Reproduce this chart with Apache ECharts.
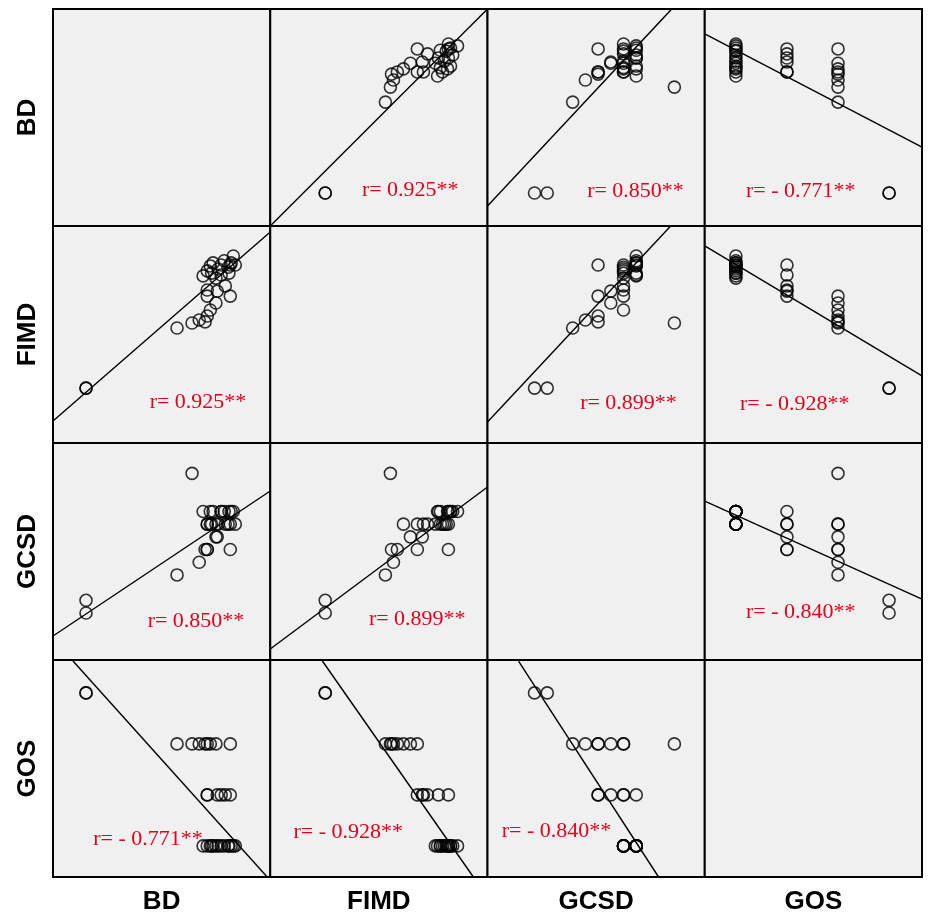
<!DOCTYPE html>
<html><head><meta charset="utf-8">
<script src="https://cdn.jsdelivr.net/npm/echarts@6/dist/echarts.min.js"></script>
<style>html,body{margin:0;padding:0;background:#fff}#c{width:935px;height:920px}</style>
</head><body><div id="c"></div>
<script>
// ---- data (one entry per subject) ----
const variables = ['BD', 'FIMD', 'GCSD', 'GOS'];
const bd   = [15.2,15.2,57.1,64.0,67.3,70.0,71.0,72.4,75.0,81.6,81.6,71.0,75.6,79.3,77.4,71.0,69.1,71.0,72.4,73.7,76.0,77.4,78.8,80.6,82.0,83.0,83.9,75.0,81.0,73.0];
const fimd = [25.3,25.3,53.0,55.3,56.7,55.8,58.5,61.3,64.5,67.7,82.0,67.7,70.0,72.4,77.4,70.5,77.0,79.3,81.6,83.0,80.2,82.0,84.0,81.0,83.0,86.2,82.0,76.0,78.3,78.3];
const gcsd = [4,3,6,14,7,8,8,10,9,10,8,8,9,10,11,10,11,10,11,11,10,11,11,10,11,11,10,10,11,10];
const gos  = [5,5,4,4,4,4,4,4,4,4,3,3,3,3,3,3,2,2,2,2,2,2,2,2,2,2,2,2,2,2];
// axis ranges of each variable
const axisMin = [0, 0, -0.7, 1.39];
const axisMax = [100, 100, 16.39, 5.645];
// fitted lines: [row, col, x1, y1, x2, y2]
const fitLines = [
  [0,1, 0,0, 100,100],
  [0,2, -0.7,9.2, 13.87,100.5],
  [0,3, 1.39,88.5, 5.645,36.4],
  [1,0, 0,10.1, 100,97.2],
  [1,2, -0.7,9.7, 13.71,100],
  [1,3, 1.39,90.8, 5.645,30.9],
  [2,0, 0,1.19, 100,12.61],
  [2,1, 0,0.17, 100,12.92],
  [2,3, 1.39,11.82, 5.645,4.10],
  [3,0, 9.2,5.625, 98.6,1.39],
  [3,1, 24.0,5.625, 93.5,1.39],
  [3,2, 1.74,5.625, 12.76,1.39]
];
// correlation annotations: [row, col, text]
const rTexts = [
  [0,1,'r= 0.925**'], [0,2,'r= 0.850**'], [0,3,'r= - 0.771**'],
  [1,0,'r= 0.925**'], [1,2,'r= 0.899**'], [1,3,'r= - 0.928**'],
  [2,0,'r= 0.850**'], [2,1,'r= 0.899**'], [2,3,'r= - 0.840**'],
  [3,0,'r= - 0.771**'], [3,1,'r= - 0.928**'], [3,2,'r= - 0.840**']
];

// ---- layout ----
const L0 = 53, T0 = 9, CW = 217.25, CH = 217;
// annotation centre inside each panel (px from panel left/top)
const rTextPos = {
  '0,1':[140,181], '0,2':[148,182], '0,3':[96,182],
  '1,0':[145,176], '1,2':[141,177], '1,3':[90,178],
  '2,0':[143,178], '2,1':[147,176], '2,3':[96,169],
  '3,0':[95,179],  '3,1':[78,172],  '3,2':[69,171]
};

const vals = [bd, fimd, gcsd, gos];
const grids = [], xAxes = [], yAxes = [], series = [], graphics = [];
let gi = 0;
const gridIndex = {};
for (let r = 0; r < 4; r++) {
  for (let c = 0; c < 4; c++) {
    grids.push({left: L0 + c*CW, top: T0 + r*CH, width: CW, height: CH,
      show: true, backgroundColor: '#f0f0f0', borderColor: '#000', borderWidth: 2});
    xAxes.push({type:'value', gridIndex: gi, min: axisMin[c], max: axisMax[c],
      axisLine:{show:false}, axisTick:{show:false}, axisLabel:{show:false}, splitLine:{show:false}});
    yAxes.push({type:'value', gridIndex: gi, min: axisMin[r], max: axisMax[r],
      axisLine:{show:false}, axisTick:{show:false}, axisLabel:{show:false}, splitLine:{show:false}});
    gridIndex[r+','+c] = gi;
    if (r !== c) {
      const pts = vals[c].map((v, i) => [v, vals[r][i]]);
      series.push({type:'scatter', xAxisIndex: gi, yAxisIndex: gi, data: pts,
        symbol:'circle', symbolSize: 12, silent: true,
        itemStyle:{color:'rgba(0,0,0,0)', borderColor:'#000', borderWidth:1.6}});
    }
    gi++;
  }
}
fitLines.forEach(f => {
  const g = gridIndex[f[0]+','+f[1]];
  series.push({type:'line', xAxisIndex: g, yAxisIndex: g, clip: true, silent: true,
    data: [[f[2], f[3]], [f[4], f[5]]], symbol:'none',
    lineStyle:{color:'#000', width:1.4}});
});
rTexts.forEach(t => {
  const p = rTextPos[t[0]+','+t[1]];
  graphics.push({type:'text', x: L0 + t[1]*CW + p[0], y: T0 + t[0]*CH + p[1], z: 100,
    style:{text: t[2], fill:'#e0001b', font:'22px "Liberation Serif"', textAlign:'center', textVerticalAlign:'middle'}});
});
variables.forEach((v, i) => {
  graphics.push({type:'text', x: L0 + i*CW + CW/2, y: 902,
    style:{text: v, fill:'#000', font:'bold 26px "Liberation Sans"', textAlign:'center', textVerticalAlign:'middle'}});
  graphics.push({type:'text', x: 28, y: T0 + i*CH + CH/2, rotation: Math.PI/2,
    style:{text: v, fill:'#000', font:'bold 26px "Liberation Sans"', textAlign:'center', textVerticalAlign:'middle'}});
});

const chart = echarts.init(document.getElementById('c'));
chart.setOption({animation:false, backgroundColor:'#fff', grid: grids, xAxis: xAxes, yAxis: yAxes, series: series, graphic: graphics});
</script></body></html>
